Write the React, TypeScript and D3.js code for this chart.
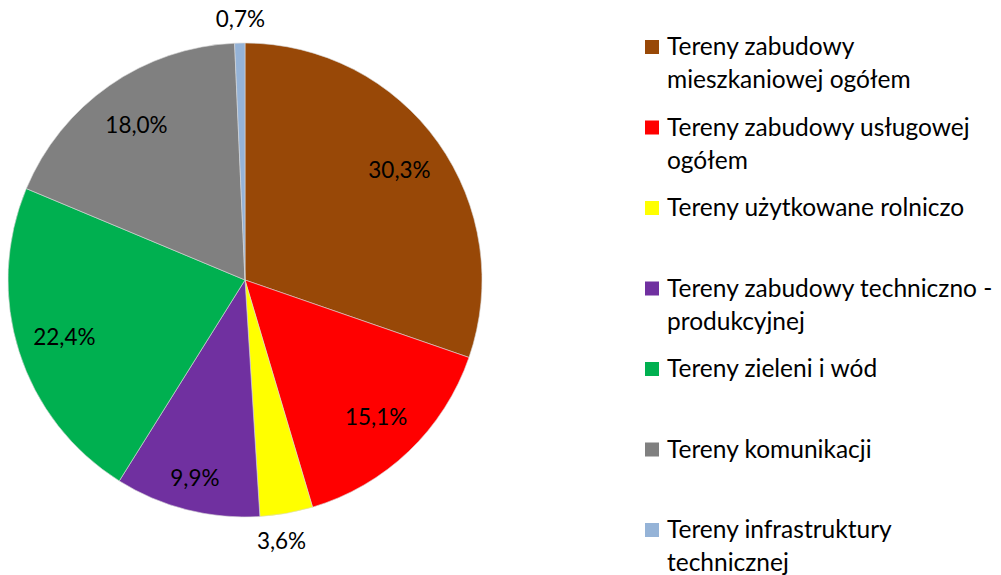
import React from "react";
import * as d3 from "d3";

const categories = [
  ["Tereny zabudowy", "mieszkaniowej ogółem"],
  ["Tereny zabudowy usługowej", "ogółem"],
  ["Tereny użytkowane rolniczo"],
  ["Tereny zabudowy techniczno -", "produkcyjnej"],
  ["Tereny zieleni i wód"],
  ["Tereny komunikacji"],
  ["Tereny infrastruktury", "technicznej"],
];
const values = [30.3, 15.1, 3.6, 9.9, 22.4, 18.0, 0.7];
const colors = ["#984807", "#FF0000", "#FFFF00", "#7030A0", "#00B050", "#808080", "#95B3D7"];
const labelOutside = [false, false, true, false, false, false, true];

const W = 1001;
const H = 575;
const FONT = "Lato, 'Open Sans', sans-serif";

export default function App() {
  const cx = 245;
  const cy = 280;
  const r = 237;
  const pie = d3.pie<number>().sort(null).value((d) => d)(values);
  const arc = d3.arc<d3.PieArcDatum<number>>().innerRadius(0).outerRadius(r);
  const fmt = (v: number) => v.toFixed(1).replace(".", ",") + "%";

  const legendY = d3.scaleLinear().domain([0, categories.length - 1]).range([47, 530]);

  return (
    <svg
      width={W}
      height={H}
      style={{ position: "absolute", left: 0, top: 0, display: "block", background: "#fff" }}
    >
      <g transform={`translate(${cx},${cy})`}>
        {pie.map((p, i) => (
          <path key={i} d={arc(p) || ""} fill={colors[i]} stroke="#d9d9d9" strokeWidth={0.6} />
        ))}
        {pie.map((p, i) => {
          const mid = (p.startAngle + p.endAngle) / 2;
          const lr = labelOutside[i] ? r + 24 : r * (i === 3 ? 0.86 : 0.8);
          const x = Math.sin(mid) * lr * (labelOutside[i] ? 0.8 : 1);
          const y = -Math.cos(mid) * lr + (labelOutside[i] && Math.cos(mid) < 0 ? 4 : 0);
          return (
            <text
              key={"l" + i}
              x={x}
              y={y + 8}
              textAnchor="middle"
              fontFamily={FONT}
              fontSize={22.5}
              fill="#000"
            >
              {fmt(values[i])}
            </text>
          );
        })}
      </g>
      <g>
        {categories.map((lines, i) => {
          const y = legendY(i);
          return (
            <g key={"lg" + i}>
              <rect x={645} y={y - 7} width={14} height={14} fill={colors[i]} />
              {lines.map((t, j) => (
                <text
                  key={j}
                  x={667}
                  y={y + 8 + j * 33}
                  fontFamily={FONT}
                  fontSize={24.5}
                  fill="#000"
                >
                  {t}
                </text>
              ))}
            </g>
          );
        })}
      </g>
    </svg>
  );
}
